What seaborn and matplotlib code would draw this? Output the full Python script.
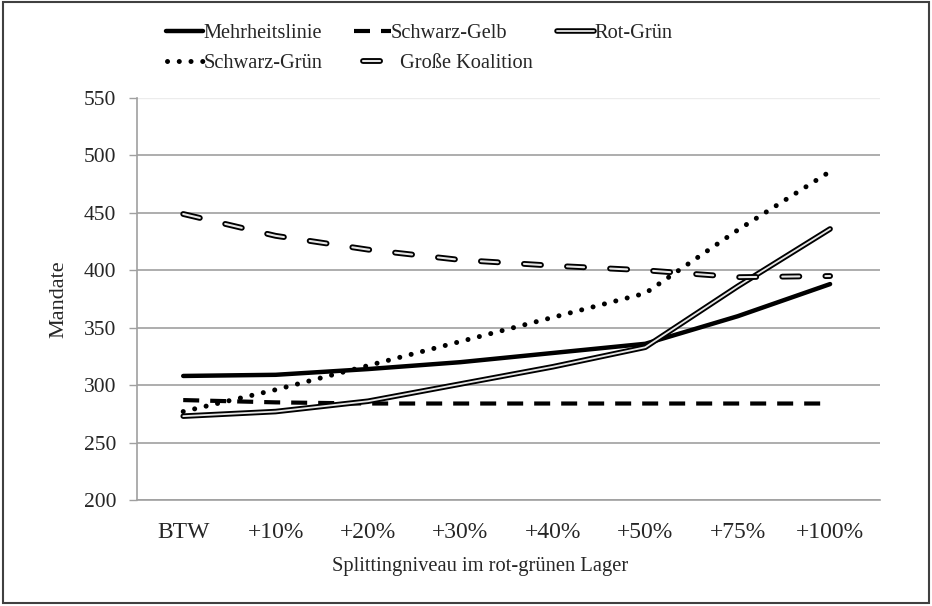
import matplotlib
matplotlib.use("Agg")
import matplotlib.pyplot as plt
import matplotlib.patheffects as pe
from matplotlib.patches import Rectangle
import seaborn as sns
import pandas as pd
import numpy as np

categories = ["BTW", "+10%", "+20%", "+30%", "+40%", "+50%", "+75%", "+100%"]
mehrheitslinie = [308, 309, 314, 320, 328, 336, 360, 388]
schwarz_gelb = [287, 285, 284, 284, 284, 284, 284, 284]
rot_gruen = [273, 277, 286, 301, 316, 333, 386, 436]
schwarz_gruen = [277, 296, 317, 338, 359, 380, 435, 486]
grosse_koalition = [449, 430, 418, 409, 404, 400, 394, 395]
y_ticks = [200, 250, 300, 350, 400, 450, 500, 550]

sns.set_theme(style="white")
plt.rcParams['font.family'] = ['Liberation Serif', 'DejaVu Serif']

W, H = 932, 606
fig = plt.figure(figsize=(W / 100, H / 100), dpi=100)
ax = fig.add_axes([137 / W, 1 - 500 / H, (880 - 137) / W, (500 - 98) / H])

x = np.arange(len(categories))
df = pd.DataFrame({"x": x, "M": mehrheitslinie, "SG": schwarz_gelb, "RG": rot_gruen,
                   "SGr": schwarz_gruen, "GK": grosse_koalition})

# gridlines
for v in y_ticks[:-1]:
    ax.axhline(v, color="#a0a0a0", lw=1.2, zorder=0)
ax.axhline(550, color="#ececec", lw=1.0, zorder=0)

sns.lineplot(data=df, x="x", y="M", ax=ax, color="black", lw=3.2, label="Mehrheitslinie")
h_m = ax.get_lines()[-1]

sns.lineplot(data=df, x="x", y="SG", ax=ax, color="black", lw=3.0, label="Schwarz-Gelb")
h_sg = ax.get_lines()[-1]
h_sg.set_dashes([3.84, 2.64])

sns.lineplot(data=df, x="x", y="RG", ax=ax, color="#e6e6e6", lw=1.3, label="Rot-Grün")
h_rg = ax.get_lines()[-1]
h_rg.set_path_effects([pe.Stroke(linewidth=4.0, foreground="black"), pe.Normal()])

sns.lineplot(data=df, x="x", y="SGr", ax=ax, color="black", lw=3.6, label="Schwarz-Grün")
h_sgr = ax.get_lines()[-1]
h_sgr.set_dashes([0.01, 2.34])
h_sgr.set_dash_capstyle("round")

sns.lineplot(data=df, x="x", y="GK", ax=ax, color="#e6e6e6", lw=1.5, label="Große Koalition")
h_gk = ax.get_lines()[-1]
h_gk.set_dashes([8.2, 12.5])
h_gk.set_dash_capstyle("round")
h_gk.set_path_effects([pe.Stroke(linewidth=4.2, foreground="black"), pe.Normal()])

ax.get_legend().remove()

ax.set_xlim(-0.5, 7.54)
ax.set_ylim(200, 550)
ax.set_yticks(y_ticks)
ax.set_yticklabels([str(v) for v in y_ticks], fontsize=15.5)
ax.set_xticks(x)
ax.set_xticklabels(categories, fontsize=17)
ax.set_xticks(np.arange(-0.5, 8.0, 1.0), minor=True)
ax.tick_params(axis="x", which="major", length=0, pad=16)
ax.tick_params(axis="x", which="minor", length=6, width=1.0, color="#a0a0a0", direction="out")
ax.tick_params(axis="y", which="major", length=6, width=1.0, color="#a0a0a0",
               direction="out", pad=9, left=True)

for s in ["top", "right"]:
    ax.spines[s].set_visible(False)
for s in ["left", "bottom"]:
    ax.spines[s].set_color("#a0a0a0")
    ax.spines[s].set_linewidth(1.2)

ax.set_xlabel("Splittingniveau im rot-grünen Lager", fontsize=14.8)
ax.xaxis.set_label_coords(0.4616, -0.143)
ax.set_ylabel("Mandate", fontsize=16)
ax.yaxis.set_label_coords(-0.093, 0.5)

# legend entries placed individually (handle start x, row center y in pixels)
entries = [
    (h_m, "Mehrheitslinie", 166, 33),
    (h_sg, "Schwarz-Gelb", 354, 33),
    (h_rg, "Rot-Grün", 557, 33),
    (h_sgr, "Schwarz-Grün", 167, 63),
    (h_gk, "Große Koalition", 363, 63),
]
fs_leg = 14.7
hl = 37 / (fs_leg * 100 / 72)
for h, lab, px, py in entries:
    fig.legend([h], [lab], loc="center left", bbox_to_anchor=(px / W, 1 - py / H),
               frameon=False, fontsize=fs_leg, handlelength=hl, handletextpad=0.0,
               borderpad=0, borderaxespad=0)

fig.patches.append(Rectangle((3 / W, 3 / H), 926 / W, 601 / H, transform=fig.transFigure,
                             fill=False, edgecolor="#404040", lw=1.5))

fig.savefig("out.png", dpi=100)
